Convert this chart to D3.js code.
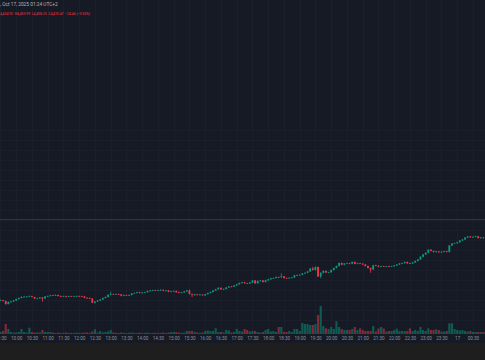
<!DOCTYPE html>
<html><head><meta charset="utf-8">
<script src="https://cdn.jsdelivr.net/npm/d3@7/dist/d3.min.js"></script>
<style>html,body{margin:0;padding:0;background:#1e1e1e;}svg{display:block;}</style>
</head><body><svg id="c" width="485" height="360"></svg>
<script>
// ---- data ----
const headerLine1 = ", Oct 17, 2025 01:24 UTC+2";
const headerLine2 = "4,434.92  H4,435.99  L4,408.25  C4,410.47  −24.46 (−0.55%)";
const startTime = "2025-10-16T09:30:00Z";
const barMinutes = 5;
const tickLabels = ["09:30","10:00","10:30","11:00","11:30","12:00","12:30","13:00","13:30","14:00","14:30","15:00","15:30","16:00","16:30","17:00","17:30","18:00","18:30","19:00","19:30","20:00","20:30","21:00","21:30","22:00","22:30","23:00","23:30","17","00:30"];
const priceLine = 4381;
const gridPrices = [4560,4540,4520,4500,4480,4460,4440,4420,4400,4380,4360,4340,4320,4300,4280,4260,4240,4220,4200,4180];
// [open, high, low, close]
const ohlc = [
[4219,4221,4218,4219.5],[4219.5,4220.5,4217,4218],[4218,4219,4210.5,4212],[4212,4217,4211,4216],[4216,4218.5,4214.5,4217],
[4217,4220,4216,4219],[4219,4223,4218,4222],[4222,4225,4221,4224],[4224,4227.5,4223,4226],[4226,4228,4225,4226.6],
[4226.6,4228,4225.5,4226.8],[4226.8,4229,4226,4227.4],[4227.4,4228.5,4225,4226],[4226,4226.5,4222,4223],[4223,4224.5,4222,4223.4],
[4223.4,4226,4222.5,4225],[4225,4226,4216.6,4223],[4223,4228,4222,4227],[4227,4229,4226,4228],[4228,4230.5,4227,4229.4],
[4229.4,4230.5,4228,4229],[4229,4231.5,4228.5,4230],[4230,4231,4227,4228],[4228,4229,4226,4227],[4227,4228.5,4226,4227.4],
[4227.4,4228.5,4225.5,4226.6],[4226.6,4228.5,4226,4227.6],[4227.6,4228.5,4226,4227],[4227,4228.5,4226.5,4227.4],[4227.4,4229,4226.8,4228],
[4228,4229,4226.5,4227.4],[4227.4,4228.5,4226,4227],[4227,4228,4223.5,4224.4],[4224.4,4225.5,4223,4224],[4224,4225,4222,4223],
[4222.6,4224,4213.5,4214.6],[4214.6,4218,4213,4217],[4217,4220,4216,4219],[4219,4222,4218,4221],[4221,4225,4220,4224],
[4224,4227,4223,4226],[4226,4231.5,4225,4230.4],[4230.4,4236.6,4229.5,4231.6],[4231.6,4232.5,4230.5,4231.4],[4231.4,4233,4230.5,4232],
[4232,4233,4230.5,4231.4],[4231.4,4232,4227.5,4228.6],[4228.6,4231,4227.5,4230],[4230,4231,4228.5,4229.4],[4229.4,4231,4228.5,4230],
[4230,4234,4229,4233],[4233,4235,4232,4234],[4234,4236.5,4233,4235.4],[4235.4,4236.5,4233,4234],[4234,4236,4233,4235],
[4235,4236.5,4234,4235.6],[4235.6,4239,4235,4238],[4238,4240,4237,4239],[4239,4240.5,4238,4239.4],[4239.4,4240.5,4238,4239],
[4239,4240.5,4238,4239.6],[4239.6,4241.5,4239,4240.4],[4240.4,4241,4237.5,4238.6],[4238.6,4240,4237.5,4239],[4239,4240,4235.5,4236.4],
[4236.4,4238.5,4235.5,4237.4],[4237.4,4239,4236.5,4238],[4238,4239,4234.5,4235.4],[4235.4,4236.5,4233.5,4234.6],[4234.6,4236,4233.5,4235],
[4235,4238,4234,4237],[4237,4240,4236,4239],[4239,4241,4231,4232],[4232,4233,4226,4231],[4231,4232.5,4228,4231.4],
[4231.4,4232,4229,4230.4],[4230.4,4232,4229.5,4230.8],[4230.8,4231.5,4228.5,4229.4],[4229.4,4232.5,4228,4231.6],[4231.6,4235,4231,4234],
[4234,4237,4233,4236],[4236,4240,4235,4239],[4239,4242.5,4238,4241.4],[4241.4,4245.5,4240.5,4244.4],[4244.4,4245,4240.5,4241.4],
[4241.4,4243,4240.5,4242],[4242,4246,4241,4245],[4245,4248,4244,4247],[4247,4248,4245.5,4246.6],[4246.6,4250,4246,4249],
[4249,4252.5,4248,4251.4],[4251.4,4255,4250.5,4254],[4254,4256.5,4253,4255.4],[4255.4,4256.5,4252.5,4253.6],[4253.6,4254.5,4252,4253],
[4253,4256,4252,4255],[4255,4260,4254,4259],[4259,4260,4252.5,4253.4],[4253.4,4259,4252.5,4258],[4258,4260,4257,4259],
[4259,4260,4255,4256],[4256,4260.5,4255,4259.4],[4259.4,4262.5,4258.5,4261.4],[4261.4,4264.5,4260.5,4263.4],[4263.4,4265,4262.5,4264],
[4264,4267,4263,4266],[4266,4267,4264.5,4265.4],[4265.4,4273.4,4264.5,4267.4],[4267.4,4268,4263,4264],[4264,4265,4262.5,4263.4],
[4263.4,4265.5,4262.5,4264.4],[4264.4,4266,4263.5,4265],[4265,4270.5,4264,4269.4],[4269.4,4271,4268.5,4270],[4270,4271.5,4269,4270.4],
[4270.4,4274,4269.5,4273],[4273,4275.5,4272,4274.4],[4274.4,4278,4273.5,4277],[4277,4284,4276,4283],[4283,4286.6,4279,4280],
[4280,4287,4279,4286],[4286,4287,4266,4267],[4267,4275.5,4263.4,4274.4],[4274.4,4279,4273,4278],[4278,4279,4274,4275],
[4275,4276.5,4274,4275.6],[4275.6,4281,4274.5,4280],[4280,4285,4279,4284],[4284,4289,4283,4288],[4288,4295,4287,4294],
[4294,4295,4289.5,4290.6],[4290.6,4294,4289.5,4293],[4293,4294.5,4292,4293.4],[4293.4,4294.5,4291.5,4292.6],[4292.6,4297,4291.5,4296],
[4296,4297,4291.5,4292.4],[4292.4,4294.5,4291.5,4293.4],[4293.4,4294.5,4292,4292.8],[4292.8,4293.5,4290,4291],[4291,4291.5,4287,4288],
[4288,4289,4283,4284],[4284,4285,4274.6,4281],[4281,4290.5,4280,4289.4],[4289.4,4290.5,4287.5,4288.4],[4288.4,4289.5,4285.5,4286.4],
[4286.4,4288.5,4285.5,4287.4],[4287.4,4288.5,4286,4286.8],[4286.8,4288.5,4286,4287.6],[4287.6,4288.5,4285.5,4286.6],[4286.6,4288.5,4286,4287.4],
[4287.4,4290,4286.5,4289],[4289,4292,4288,4291],[4291,4294,4290,4293],[4293,4294.5,4292,4293.6],[4293.6,4297,4293,4296],
[4296,4297,4292.5,4293.4],[4293.4,4294.5,4292,4293],[4293,4296,4292,4295],[4295,4299,4294,4298],[4298,4302,4297,4301],
[4301,4307.5,4300,4306.4],[4306.4,4312,4305.5,4311],[4311,4315.5,4310,4314.6],[4314.6,4321.5,4313.5,4320.6],[4320.6,4321.5,4317,4318],
[4318,4319,4315,4316],[4316,4318,4315,4317],[4317,4318,4314.5,4315.4],[4315.4,4317.5,4314.5,4316.4],[4316.4,4318.5,4315.5,4317.4],
[4317.4,4318.5,4315,4316],[4316,4330,4315,4329],[4329,4334,4328,4333],[4333,4334.5,4332,4333.6],[4333.6,4336.5,4332.5,4335.4],
[4335.4,4340,4334.5,4339],[4339,4342,4338,4341],[4341,4346,4340,4345],[4345,4348,4344,4347],[4347,4348,4344.5,4345.4],
[4345.4,4347.5,4344.5,4346.4],[4346.4,4348.5,4345.5,4347.4],[4347.4,4348.5,4343,4344],[4344,4346,4343,4345],[4345,4346,4343.5,4344.4]
];
const volume = [
200,300,1000,500,200,150,150,200,500,200, 150,630,200,150,150,150,400,200,200,200,
150,100,150,100,120,150,100,120,100,150, 100,120,150,150,120,250,470,150,300,150,
200,250,400,150,120,100,150,120,100,120, 150,120,100,150,100,120,150,100,100,120,
100,120,150,100,150,200,200,200,150,120, 150,300,300,300,200,150,120,150,300,350,
300,300,570,200,200,150,400,350,150,200, 500,300,250,500,400,250,300,300,200,150,
200,400,500,250,300,200,700,700,200,200, 300,200,500,500,300,1100,1000,1000,900,900,
1000,1900,2800,800,570,500,700,500,1270,700, 500,400,400,400,500,700,400,570,400,300,
300,300,800,250,550,700,550,250,300,300, 400,530,300,300,300,300,570,300,400,300,
700,400,300,570,400,400,470,400,250,250, 300,1070,1070,500,400,350,400,300,250,300,
200,200,200,200,200
];

// ---- layout ----
const W = 485, H = 360;
const paneBottom = 334, axisBottom = 343;
const bg = "#161a25", gridColor = "#1b1f2b";
const upColor = "#089981", downColor = "#f23645";
const upVol = "rgba(8,153,129,0.5)", downVol = "rgba(242,54,69,0.5)";
const font = "Roboto, 'Noto Sans', sans-serif";

const svg = d3.select("#c");
const t0 = new Date(startTime);
const tEnd = d3.utcMinute.offset(t0, 930);
const x = d3.scaleUtc().domain([t0, tEnd]).range([0.45, 0.45 + 930 * 0.525]);
const y = d3.scaleLinear().domain([4200, 4360]).range([310, 230]);
const yv = d3.scaleLinear().domain([0, 3000]).range([paneBottom, 304]);

const bars = ohlc.map((d, i) => ({t: d3.utcMinute.offset(t0, i * barMinutes), o: d[0], h: d[1], l: d[2], c: d[3], v: volume[i]}));

svg.append("rect").attr("width", W).attr("height", H).attr("fill", "#1e1e1e");
svg.append("rect").attr("width", W).attr("height", axisBottom).attr("fill", bg);

const tickTimes = d3.utcMinute.every(30).range(t0, d3.utcMinute.offset(tEnd, 1)).slice(0, tickLabels.length);

// grid
const g = svg.append("g");
g.selectAll("line.v").data(tickTimes).join("line")
  .attr("x1", d => Math.round(x(d)) + 0.5).attr("x2", d => Math.round(x(d)) + 0.5)
  .attr("y1", 0).attr("y2", paneBottom).attr("stroke", gridColor).attr("stroke-width", 1);
g.selectAll("line.h").data(gridPrices).join("line")
  .attr("x1", 0).attr("x2", W)
  .attr("y1", d => Math.round(y(d)) + 0.5).attr("y2", d => Math.round(y(d)) + 0.5)
  .attr("stroke", gridColor).attr("stroke-width", 1);

// price line
svg.append("line").attr("x1", 0).attr("x2", W)
  .attr("y1", Math.round(y(priceLine)) + 0.5).attr("y2", Math.round(y(priceLine)) + 0.5)
  .attr("stroke", "#5e1f30").attr("stroke-width", 1);

// volume
svg.append("g").selectAll("rect").data(bars).join("rect")
  .attr("x", d => x(d.t) - 1.1).attr("width", 2.2)
  .attr("y", d => yv(d.v)).attr("height", d => paneBottom - yv(d.v))
  .attr("fill", d => d.c >= d.o ? upVol : downVol);

// candles
const cg = svg.append("g");
cg.selectAll("line").data(bars).join("line")
  .attr("x1", d => x(d.t)).attr("x2", d => x(d.t))
  .attr("y1", d => y(d.h)).attr("y2", d => y(d.l))
  .attr("stroke", d => d.c >= d.o ? upColor : downColor).attr("stroke-width", 0.8);
cg.selectAll("rect").data(bars).join("rect")
  .attr("x", d => x(d.t) - 0.9).attr("width", 1.8)
  .attr("y", d => Math.min(y(d.o), y(d.c)))
  .attr("height", d => Math.max(0.7, Math.abs(y(d.o) - y(d.c))))
  .attr("fill", d => d.c >= d.o ? upColor : downColor);

// time axis
const axis = d3.axisBottom(x).tickValues(tickTimes).tickSize(0).tickPadding(0)
  .tickFormat((d, i) => tickLabels[i]);
const ax = svg.append("g").attr("transform", `translate(0,${paneBottom})`).call(axis);
ax.select(".domain").remove();
ax.selectAll("text").attr("y", 5.6).attr("dy", 0).attr("fill", "#8a8e99")
  .attr("font-family", font).attr("font-size", 4.6);

// header
svg.append("text").attr("x", 0).attr("y", 5.5).text(headerLine1)
  .attr("fill", "#b2b5be").attr("font-family", font).attr("font-size", 4.8);
svg.append("text").attr("x", 0).attr("y", 14.5).text(headerLine2)
  .attr("fill", "#f23645").attr("font-family", font).attr("font-size", 3.4)
  .attr("xml:space", "preserve");
</script></body></html>
